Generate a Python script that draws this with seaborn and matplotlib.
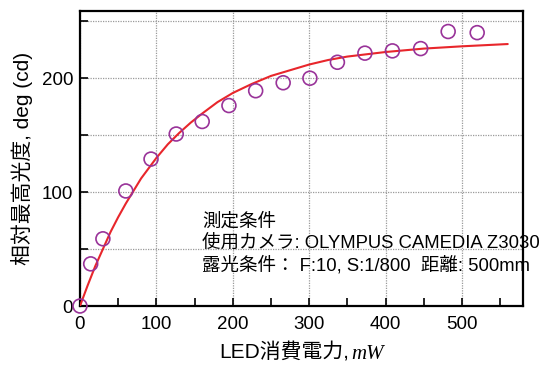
import matplotlib
matplotlib.use("Agg")
import matplotlib.pyplot as plt
import seaborn as sns
import pandas as pd
from matplotlib.ticker import MultipleLocator
from matplotlib.offsetbox import TextArea, HPacker, AnnotationBbox

# measured points
power_mw = [0, 14, 30, 60, 93, 126, 160, 195, 230, 266, 301, 337, 373, 409, 446, 482, 520]
luminance = [0, 37, 59, 101, 129, 151, 162, 176, 189, 196, 200, 214, 222, 224, 226, 241, 240]

# fitted curve
fit_x = [0, 10, 20, 30, 40, 50, 60, 70, 80, 90, 100, 115, 130, 145, 160, 180, 200, 225, 250, 275, 300, 325, 350, 375, 400, 450, 500, 560]
fit_y = [0, 18, 35, 50, 65, 78, 90, 101, 112, 121, 130, 142, 152, 161, 169, 179, 187, 195, 202, 207, 212, 216, 219, 221, 223, 226, 228, 230]

annotation_lines = ["測定条件", "使用カメラ: OLYMPUS CAMEDIA Z3030", "露光条件： F:10, S:1/800  距離: 500mm"]

sns.set_theme(style="white")
plt.rcParams["font.family"] = ["Liberation Sans", "Noto Sans CJK JP", "DejaVu Sans"]

fig = plt.figure(figsize=(5.52, 3.67), dpi=100)
ax = fig.add_axes([0.1449, 0.1662, 0.9475 - 0.1449, 0.970 - 0.1662])

df_pts = pd.DataFrame({"x": power_mw, "y": luminance})
df_fit = pd.DataFrame({"x": fit_x, "y": fit_y})

sns.lineplot(data=df_fit, x="x", y="y", ax=ax, color="#e8262b", linewidth=1.5, zorder=3)
sns.scatterplot(data=df_pts, x="x", y="y", ax=ax, s=100, facecolors="none",
                edgecolor="#993399", linewidth=1.2, zorder=4, clip_on=False)

ax.set_xlim(0, 580)
ax.set_ylim(0, 259)
ax.xaxis.set_major_locator(MultipleLocator(100))
ax.xaxis.set_minor_locator(MultipleLocator(50))
ax.yaxis.set_major_locator(MultipleLocator(100))
ax.yaxis.set_minor_locator(MultipleLocator(50))

grid_kw = dict(color="#9a9a9a", linestyle=(0, (1, 1)), linewidth=0.9)
ax.grid(True, which="major", axis="x", **grid_kw)
ax.grid(True, which="both", axis="y", **grid_kw)
ax.set_axisbelow(True)

for sp in ax.spines.values():
    sp.set_visible(True)
    sp.set_color("black")
    sp.set_linewidth(1.6)

ax.tick_params(which="both", direction="in", bottom=True, left=True, top=False, right=False,
               color="black", width=1.2)
ax.tick_params(which="major", length=6, labelsize=13.5, pad=5, labelcolor="black")
ax.tick_params(axis="x", which="major", pad=7)
ax.tick_params(which="minor", length=6)

ax.set_xlabel("")
ax.set_ylabel("相対最高光度, deg (cd)", fontsize=15, labelpad=6, color="black")

# x label: Japanese text + italic serif unit
xl1 = TextArea("LED消費電力,", textprops=dict(fontsize=15, color="black",
               family=["Liberation Sans", "Noto Sans CJK JP"]))
xl2 = TextArea("mW", textprops=dict(fontsize=15, color="black", style="italic",
               family=["Liberation Serif", "DejaVu Serif"]))
pack = HPacker(children=[xl1, xl2], pad=0, sep=1, align="baseline")
ab = AnnotationBbox(pack, (0.5, -0.16), xycoords="axes fraction", frameon=False,
                    box_alignment=(0.5, 0.5), annotation_clip=False)
ax.add_artist(ab)

ypos = [0.285, 0.213, 0.140]
for yy, line in zip(ypos, annotation_lines):
    ax.text(0.276, yy, line, transform=ax.transAxes, fontsize=13.3,
            color="black", va="center", ha="left", zorder=2)

fig.savefig("out.png", dpi=100)
